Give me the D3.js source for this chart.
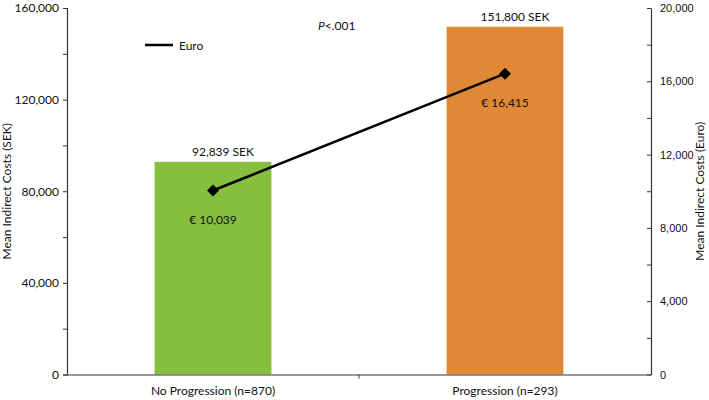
<!DOCTYPE html>
<html><head><meta charset="utf-8">
<script src="https://cdn.jsdelivr.net/npm/d3@7"></script>
<style>
body{margin:0;background:#fff;}
svg{display:block;}
text{font-family:Lato,"Open Sans",sans-serif;fill:#111;}
</style></head>
<body>
<svg id="chart" width="709" height="400"></svg>
<script>
const categories = ["No Progression (n=870)", "Progression (n=293)"];
const sekValues = [92839, 151800];
const euroValues = [10039, 16415];
const sekLabels = ["92,839 SEK", "151,800 SEK"];
const euroLabels = ["€ 10,039", "€ 16,415"];
const barColors = ["#86BF40", "#E08835"];
const leftTicks = [0, 40000, 80000, 120000, 160000];
const rightTicks = [0, 4000, 8000, 12000, 16000, 20000];

const svg = d3.select("#chart");
const L = 67, R = 651, T = 8, B = 374.5;

const x = d3.scaleBand().domain(categories).range([L, R]).paddingInner(0.6).paddingOuter(0.3);
const xOuter = d3.scaleBand().domain(categories).range([L, R]).padding(0);
const yL = d3.scaleLinear().domain([0, 160000]).range([B, T]);
const yR = d3.scaleLinear().domain([0, 20000]).range([B, T]);

// bars
svg.selectAll("rect.bar").data(categories).enter().append("rect")
  .attr("x", d => x(d)).attr("width", x.bandwidth())
  .attr("y", (d, i) => yL(sekValues[i]))
  .attr("height", (d, i) => B - yL(sekValues[i]))
  .attr("fill", (d, i) => barColors[i]);

// left axis
const fmt = d3.format(",");
const gl = svg.append("g").attr("transform", `translate(${L},0)`)
  .call(d3.axisLeft(yL).tickValues(d3.range(0, 160001, 20000)).tickSize(4)
    .tickFormat(d => leftTicks.includes(d) ? fmt(d) : ""));
gl.select(".domain").attr("stroke", "#333").attr("stroke-width", 1.2);
gl.selectAll(".tick line").attr("stroke", "#333");
gl.selectAll(".tick text").style("font-size", "12px").attr("fill", "#111").attr("x", -8);

// right axis
const gr = svg.append("g").attr("transform", `translate(${R},0)`)
  .call(d3.axisRight(yR).tickValues(d3.range(0, 20001, 2000)).tickSize(0)
    .tickFormat(d => rightTicks.includes(d) ? fmt(d) : ""));
gr.select(".domain").attr("stroke", "#333").attr("stroke-width", 1.2);
gr.selectAll(".tick").append("line").attr("x1", -4).attr("x2", 0).attr("stroke", "#333");
gr.selectAll(".tick text").style("font-size", "11px").style("font-family", "'Liberation Sans',Arial,sans-serif").attr("fill", "#111").attr("x", 9);

// x axis
const gx = svg.append("g").attr("transform", `translate(0,${B})`)
  .call(d3.axisBottom(xOuter).tickSize(0).tickFormat(() => ""));
gx.select(".domain").attr("stroke", "#333").attr("stroke-width", 1.2);
gx.append("line").attr("x1", xOuter(categories[1])).attr("x2", xOuter(categories[1]))
  .attr("y1", 0).attr("y2", 4).attr("stroke", "#333");
svg.selectAll("text.cat").data(categories).enter().append("text")
  .attr("x", d => x(d) + x.bandwidth() / 2).attr("y", 395)
  .attr("text-anchor", "middle").style("font-size", "12px").text(d => d);

// axis titles
svg.append("text").attr("transform", `translate(11,${(T + B) / 2}) rotate(-90)`)
  .attr("text-anchor", "middle").style("font-size", "12px").text("Mean Indirect Costs (SEK)");
svg.append("text").attr("transform", `translate(704,${(T + B) / 2}) rotate(-90)`)
  .attr("text-anchor", "middle").style("font-size", "12px").text("Mean Indirect Costs (Euro)");

// SEK labels
svg.selectAll("text.sek").data(categories).enter().append("text")
  .attr("x", d => x(d) + x.bandwidth() / 2 + 10)
  .attr("y", (d, i) => yL(sekValues[i]) - 6)
  .attr("text-anchor", "middle").style("font-size", "12px").text((d, i) => sekLabels[i]);

// Euro line
const cx = d => x(d) + x.bandwidth() / 2;
const line = d3.line().x(d => cx(d)).y((d, i) => yR(euroValues[i]));
svg.append("path").datum(categories).attr("d", line)
  .attr("fill", "none").attr("stroke", "#000").attr("stroke-width", 2.5);
svg.selectAll("path.pt").data(categories).enter().append("path")
  .attr("d", d3.symbol().type(d3.symbolDiamond2).size(90))
  .attr("transform", (d, i) => `translate(${cx(d)},${yR(euroValues[i])})`)
  .attr("fill", "#000");

// Euro labels
svg.selectAll("text.eur").data(categories).enter().append("text")
  .attr("x", d => cx(d)).attr("y", (d, i) => yR(euroValues[i]) + 33)
  .attr("text-anchor", "middle").style("font-size", "12px").text((d, i) => euroLabels[i]);

// legend
svg.append("line").attr("x1", 145).attr("x2", 173).attr("y1", 45).attr("y2", 45)
  .attr("stroke", "#000").attr("stroke-width", 2.5);
svg.append("text").attr("x", 179).attr("y", 49.5).style("font-size", "12px").text("Euro");

// p value
const pt = svg.append("text").attr("x", 318).attr("y", 30).style("font-size", "12px");
pt.append("tspan").style("font-style", "italic").text("P");
pt.append("tspan").text("<.001");
</script>
</body></html>
